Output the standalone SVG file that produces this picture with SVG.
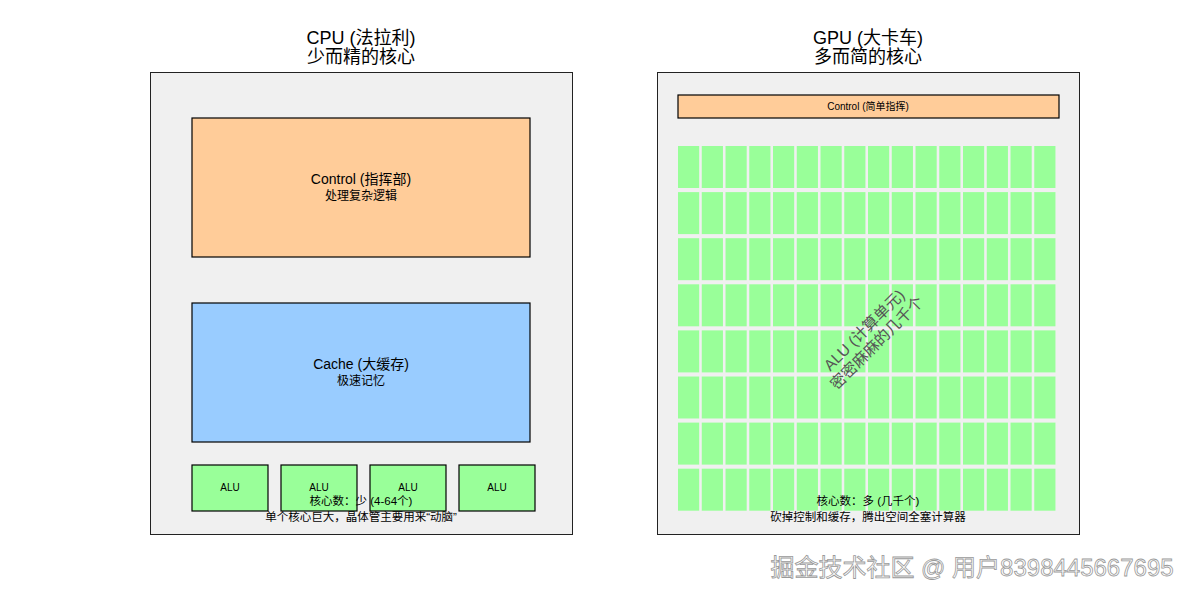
<svg xmlns="http://www.w3.org/2000/svg" width="1200" height="600" viewBox="0 0 1200 600">
<style>
text{font-family:"Liberation Sans","Noto Sans CJK SC",sans-serif;fill:#000;text-anchor:middle}
.panel{fill:#f0f0f0;stroke:#222;stroke-width:1}
.box{stroke:#000;stroke-width:1.2}
.ctl{fill:#ffcc99}.cache{fill:#99ccff}.alu{fill:#99ff99}
.t14{font-size:14px}.t12{font-size:12px}.t11{font-size:11.5px}.t10{font-size:10px}.t17{font-size:18px}
</style>
<rect width="1200" height="600" fill="#fff"/>
<g id="cpu">
<text class="t17" x="361" y="44">CPU (法拉利)</text>
<text class="t17" x="361" y="63">少而精的核心</text>
<rect class="panel" x="150.5" y="72.5" width="422" height="462"/>
</g>
<g id="cpu-control"><rect class="box ctl" x="192" y="118" width="338" height="139"/>
<text class="t14" x="361" y="184">Control (指挥部)</text><text class="t12" x="361" y="200">处理复杂逻辑</text></g>
<g id="cpu-cache"><rect class="box cache" x="192" y="303" width="338" height="139"/>
<text class="t14" x="361" y="369">Cache (大缓存)</text><text class="t12" x="361" y="385">极速记忆</text></g>
<g id="cpu-alus">
<rect class="box alu" x="192" y="465" width="76" height="46"/><text class="t10" x="230" y="491">ALU</text>
<rect class="box alu" x="281" y="465" width="76" height="46"/><text class="t10" x="319" y="491">ALU</text>
<rect class="box alu" x="370" y="465" width="76" height="46"/><text class="t10" x="408" y="491">ALU</text>
<rect class="box alu" x="459" y="465" width="76" height="46"/><text class="t10" x="497" y="491">ALU</text>
</g>
<g id="cpu-note"><text class="t11" x="361" y="505">核心数：少 (4-64个)</text><text class="t11" x="361" y="521">单个核心巨大，晶体管主要用来“动脑”</text></g>

<g id="gpu">
<text class="t17" x="868" y="44">GPU (大卡车)</text>
<text class="t17" x="868" y="63">多而简的核心</text>
<rect class="panel" x="657.5" y="72.5" width="422" height="462"/>
</g>
<g id="gpu-control"><rect class="box ctl" x="678" y="95" width="381" height="23"/><text class="t10" x="868" y="110">Control (简单指挥)</text></g>
<defs>
<g id="row">
<rect x="0" width="21.2" height="42"/><rect x="23.75" width="21.2" height="42"/><rect x="47.5" width="21.2" height="42"/><rect x="71.25" width="21.2" height="42"/>
<rect x="95" width="21.2" height="42"/><rect x="118.75" width="21.2" height="42"/><rect x="142.5" width="21.2" height="42"/><rect x="166.25" width="21.2" height="42"/>
<rect x="190" width="21.2" height="42"/><rect x="213.75" width="21.2" height="42"/><rect x="237.5" width="21.2" height="42"/><rect x="261.25" width="21.2" height="42"/>
<rect x="285" width="21.2" height="42"/><rect x="308.75" width="21.2" height="42"/><rect x="332.5" width="21.2" height="42"/><rect x="356.25" width="21.2" height="42"/>
</g>
</defs>
<g id="gpu-alus" fill="#99ff99">
<use href="#row" x="678" y="146"/><use href="#row" x="678" y="192.1"/><use href="#row" x="678" y="238.2"/><use href="#row" x="678" y="284.3"/>
<use href="#row" x="678" y="330.4"/><use href="#row" x="678" y="376.5"/><use href="#row" x="678" y="422.6"/><use href="#row" x="678" y="468.7"/>
</g>
<g id="gpu-alu-label" transform="translate(870,336) rotate(-45)">
<text x="0" y="-3" style="fill:#555;font-size:15.5px">ALU (计算单元)</text>
<text x="0" y="15" style="fill:#555;font-size:15.5px">密密麻麻的几千个</text>
</g>
<g id="gpu-note"><text class="t11" x="868" y="505">核心数：多 (几千个)</text><text class="t11" x="868" y="521">砍掉控制和缓存，腾出空间全塞计算器</text></g>
<g id="connectors"/>
<text x="972" y="576" style="font-size:24px;fill:#fff;stroke:#999;stroke-width:0.8">掘金技术社区 @ 用户8398445667695</text>
</svg>
